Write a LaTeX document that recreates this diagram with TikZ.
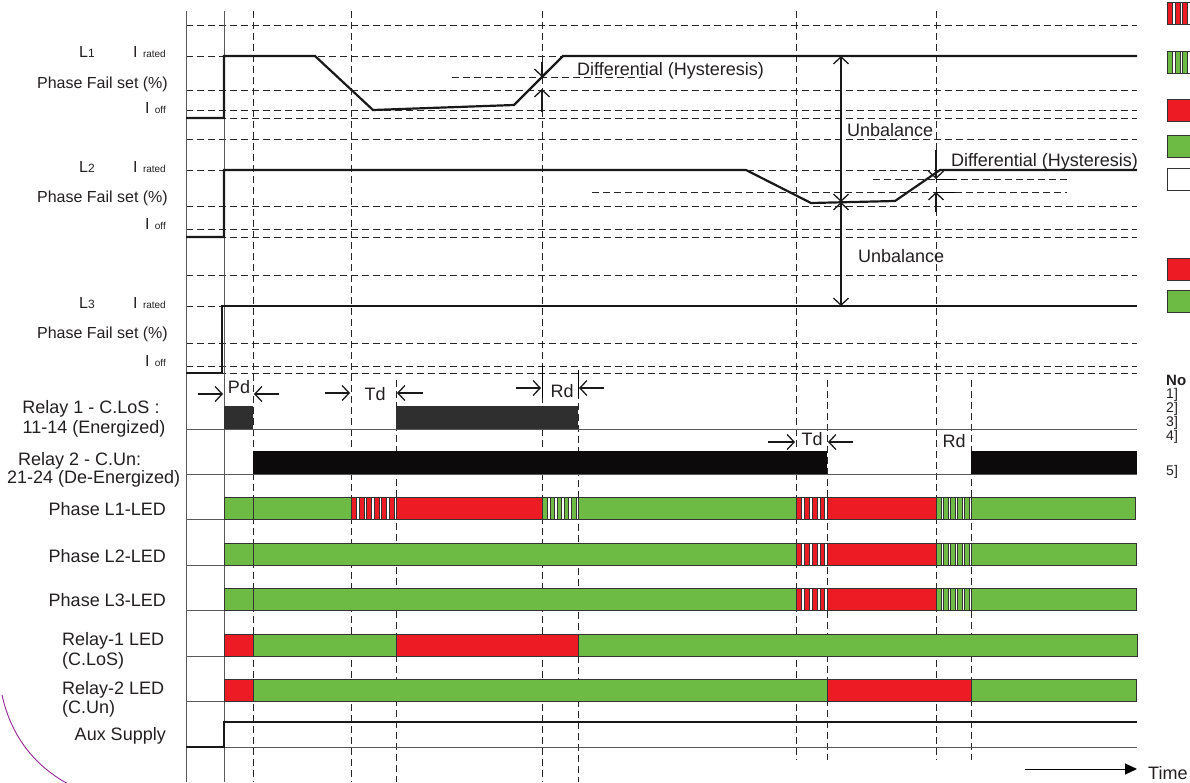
\documentclass[tikz,border=0pt]{standalone}
\usepackage{fontspec}
\setmainfont{Liberation Sans}
\usetikzlibrary{arrows.meta}

\definecolor{ledred}{RGB}{237,28,36}
\definecolor{ledgreen}{RGB}{109,187,69}
\definecolor{relayblack}{RGB}{12,10,11}
\definecolor{textgray}{RGB}{35,31,32}
\definecolor{arcpurple}{RGB}{150,40,150}

% one solid LED segment: x0, x1, top y, colour
\newcommand{\ledseg}[4]{%
  \draw[seg,fill=#4] (#1,#3) rectangle (#2,#3+22);}
% one blinking LED segment: x0, x1, top y, number of stripes, colour
\newcommand{\blinkseg}[5]{%
  \draw[seg,fill=white] (#1,#3) rectangle (#2,#3+22);
  \pgfmathsetmacro\pitch{(#2-#1)/#4}
  \foreach \i in {1,...,#4}{
    \draw[seg,fill=#5] ({#1+(\i-1)*\pitch+0.8},#3) rectangle ({#1+(\i-1)*\pitch+0.72*\pitch},#3+22);
  }}

\begin{document}
\begin{tikzpicture}[
    x=1pt,y=-1pt,
    grid/.style={dash pattern=on 7pt off 4pt,line width=0.8pt,black!85},
    wave/.style={line width=2.2pt,line join=miter,black!90},
    axis/.style={line width=0.9pt,black!65},
    seg/.style={draw=black!80,line width=0.8pt},
    dim/.style={line width=1.3pt,black!90,-{Straight Barb[length=7pt,width=15pt]}},
    both/.style={line width=1.3pt,black!90,{Straight Barb[length=7pt,width=15pt]}-{Straight Barb[length=7pt,width=15pt]}},
    lbl/.style={font=\fontsize{16}{18}\selectfont,text=textgray,inner sep=0pt},
    big/.style={font=\fontsize{18}{20}\selectfont,text=textgray,inner sep=0pt},
    note/.style={font=\fontsize{14}{15}\selectfont,text=textgray,inner sep=0pt}
]
\useasboundingbox (0,0) rectangle (1190,782);

% horizontal grid lines
\foreach \y in {25,56,90,110,118,139,170,206,229,237,275,306,343,366,373}
  \draw[grid] (186,\y) -- (1137,\y);
% hysteresis levels
\draw[grid] (452,77) -- (647,77);
\draw[grid] (873,179) -- (1067,179);
\draw[grid] (592,192) -- (1067,192);

% vertical time markers
\foreach \x/\ya/\yb in {253/11/782,351/11/782,396/380/782,542/11/782,578/370/782,
                        796/11/760,827/380/760,936/11/760,971/380/760}
  \draw[grid] (\x,\ya) -- (\x,\yb);

% axes
\draw[axis] (186,11) -- (186,782);
\draw[axis] (224,11) -- (224,782);

% phase currents
\draw[wave] (186,118) -- (224,118) -- (224,56) -- (315,56) -- (373,110)
            -- (514,105) -- (563,56) -- (1137,56);
\draw[wave] (186,237) -- (224,237) -- (224,170) -- (746,170) -- (811,203)
            -- (895,201) -- (940,170) -- (1137,170);
\draw[wave] (186,373) -- (222,373) -- (222,306) -- (1137,306);

% differential and unbalance arrows
\draw[dim] (542,62) -- (542,77);
\draw[dim] (542,112) -- (542,89);
\draw[dim] (936,150) -- (936,179);
\draw[dim] (936,212) -- (936,192);
\draw[line width=0.9pt] (936,179) -- (955,179) (936,192) -- (955,192);
\draw[both] (841,56) -- (841,202);
\draw[both] (841,202) -- (841,306);

\node[big,anchor=base west] (diff1) at (577,75) {Differential (Hysteresis)};
\node[big,anchor=base west] (diff2) at (951,166) {Differential (Hysteresis)};
\node[big,anchor=base west] (unbal1) at (847,136) {Unbalance};
\node[big,anchor=base west] (unbal2) at (858,262) {Unbalance};

% delay marks
\draw[dim] (198,394) -- (223,394);
\draw[dim] (279,394) -- (254,394);
\node[big,anchor=base] (pd) at (239,393) {Pd};
\draw[dim] (325,393) -- (350,393);
\draw[dim] (423,393) -- (397,393);
\node[big,anchor=base] (td1) at (375,400) {Td};
\draw[line width=0.9pt] (542,365) -- (542,398) (578,370) -- (578,398);
\draw[dim] (516,388) -- (541,388);
\draw[dim] (604,388) -- (579,388);
\node[big,anchor=base] (rd1) at (562,397) {Rd};
\draw[dim] (768,442) -- (795,442);
\draw[dim] (853,442) -- (828,442);
\node[big,anchor=base] (td2) at (812,445) {Td};
\node[big,anchor=base] (rd2) at (954,447) {Rd};

% relay contacts
\draw[axis] (186,429) -- (1137,429);
\fill[relayblack!85!white] (224,406) rectangle (253,429);
\fill[relayblack!85!white] (396,406) rectangle (578,429);
\draw[axis] (186,474) -- (1137,474);
\fill[relayblack] (253,451) rectangle (827,474);
\fill[relayblack] (971,451) rectangle (1137,474);

% LED rows
\foreach \y in {519,565,610,656,701}
  \draw[axis] (186,\y) -- (224,\y);
% Phase L1-LED
\ledseg{224}{253}{497}{ledgreen}
\ledseg{253}{351}{497}{ledgreen}
\blinkseg{351}{396}{497}{6}{ledred}
\ledseg{396}{542}{497}{ledred}
\blinkseg{542}{578}{497}{5}{ledgreen}
\ledseg{578}{796}{497}{ledgreen}
\blinkseg{796}{827}{497}{4}{ledred}
\ledseg{827}{936}{497}{ledred}
\blinkseg{936}{971}{497}{5}{ledgreen}
\ledseg{971}{1135}{497}{ledgreen}
% Phase L2-LED and Phase L3-LED
\foreach \t in {543,588}{
  \ledseg{224}{253}{\t}{ledgreen}
  \ledseg{253}{796}{\t}{ledgreen}
  \blinkseg{796}{827}{\t}{4}{ledred}
  \ledseg{827}{936}{\t}{ledred}
  \blinkseg{936}{971}{\t}{5}{ledgreen}
  \ledseg{971}{1136}{\t}{ledgreen}
}
% Relay-1 LED
\ledseg{224}{253}{634}{ledred}
\ledseg{253}{396}{634}{ledgreen}
\ledseg{396}{578}{634}{ledred}
\ledseg{578}{1137}{634}{ledgreen}
% Relay-2 LED
\ledseg{224}{253}{679}{ledred}
\ledseg{253}{827}{679}{ledgreen}
\ledseg{827}{971}{679}{ledred}
\ledseg{971}{1136}{679}{ledgreen}

% aux supply
\draw[axis] (224,747) -- (1137,747);
\draw[line width=1.8pt,black!90] (186,747) -- (224,747) -- (224,722) -- (1137,722);

% time axis
\draw[line width=1pt,-{Triangle[length=12pt,width=11pt]}] (1025,769) -- (1137,769);
\node[big,anchor=base west] (time) at (1148,779) {Time};

% left labels
\node[lbl,anchor=base east] (l1) at (95,57) {L{\fontsize{12}{12}\selectfont 1}};
\node[lbl,anchor=base east] (l2) at (95,172) {L{\fontsize{12}{12}\selectfont 2}};
\node[lbl,anchor=base east] (l3) at (95,308) {L{\fontsize{12}{12}\selectfont 3}};
\foreach \n/\yr/\yp/\yo in {1/57/88/113,2/172/202/229,3/308/338/366}{
  \node[lbl,anchor=base east] (rated\n) at (166,\yr) {I\,\,{\fontsize{10}{10}\selectfont rated}};
  \node[lbl,anchor=base east] (pfset\n) at (168,\yp) {Phase Fail set (\%)};
  \node[lbl,anchor=base east] (ioff\n) at (166,\yo) {I\,\,{\fontsize{10}{10}\selectfont off}};
}
\node[big,anchor=base] (relay1a) at (91,413) {Relay 1 - C.LoS :};
\node[big,anchor=base] (relay1b) at (94,433) {11-14 (Energized)};
\node[big,anchor=base west] (relay2a) at (18,465) {Relay 2 - C.Un:};
\node[big,anchor=base west] (relay2b) at (7,483) {21-24 (De-Energized)};
\node[big,anchor=base east] (led1) at (166,515) {Phase L1-LED};
\node[big,anchor=base east] (led2) at (166,562) {Phase L2-LED};
\node[big,anchor=base east] (led3) at (166,606) {Phase L3-LED};
\node[big,anchor=base west] (rled1a) at (62,645) {Relay-1 LED};
\node[big,anchor=base west] (rled1b) at (62,665) {(C.LoS)};
\node[big,anchor=base west] (rled2a) at (62,694) {Relay-2 LED};
\node[big,anchor=base west] (rled2b) at (62,713) {(C.Un)};
\node[big,anchor=base east] (aux) at (166,740) {Aux Supply};

% legend, cut by the page edge
\blinkseg{1167}{1197}{2}{4}{ledred}
\blinkseg{1167}{1197}{51}{4}{ledgreen}
\ledseg{1167}{1200}{99}{ledred}
\ledseg{1167}{1200}{135}{ledgreen}
\ledseg{1167}{1200}{168}{white}
\ledseg{1167}{1200}{258}{ledred}
\ledseg{1167}{1200}{290}{ledgreen}
\node[note,anchor=base west,font=\fontsize{15}{16}\selectfont\bfseries] (notes) at (1166,385) {No};
\foreach \k/\y in {1/398,2/412,3/426,4/440,5/475}
  \node[note,anchor=base west] (note\k) at (1166,\y) {\k]};

% stray arc
\draw[arcpurple,line width=0.9pt] (2,695) .. controls (12,740) and (38,768) .. (70,785);
\end{tikzpicture}
\end{document}
